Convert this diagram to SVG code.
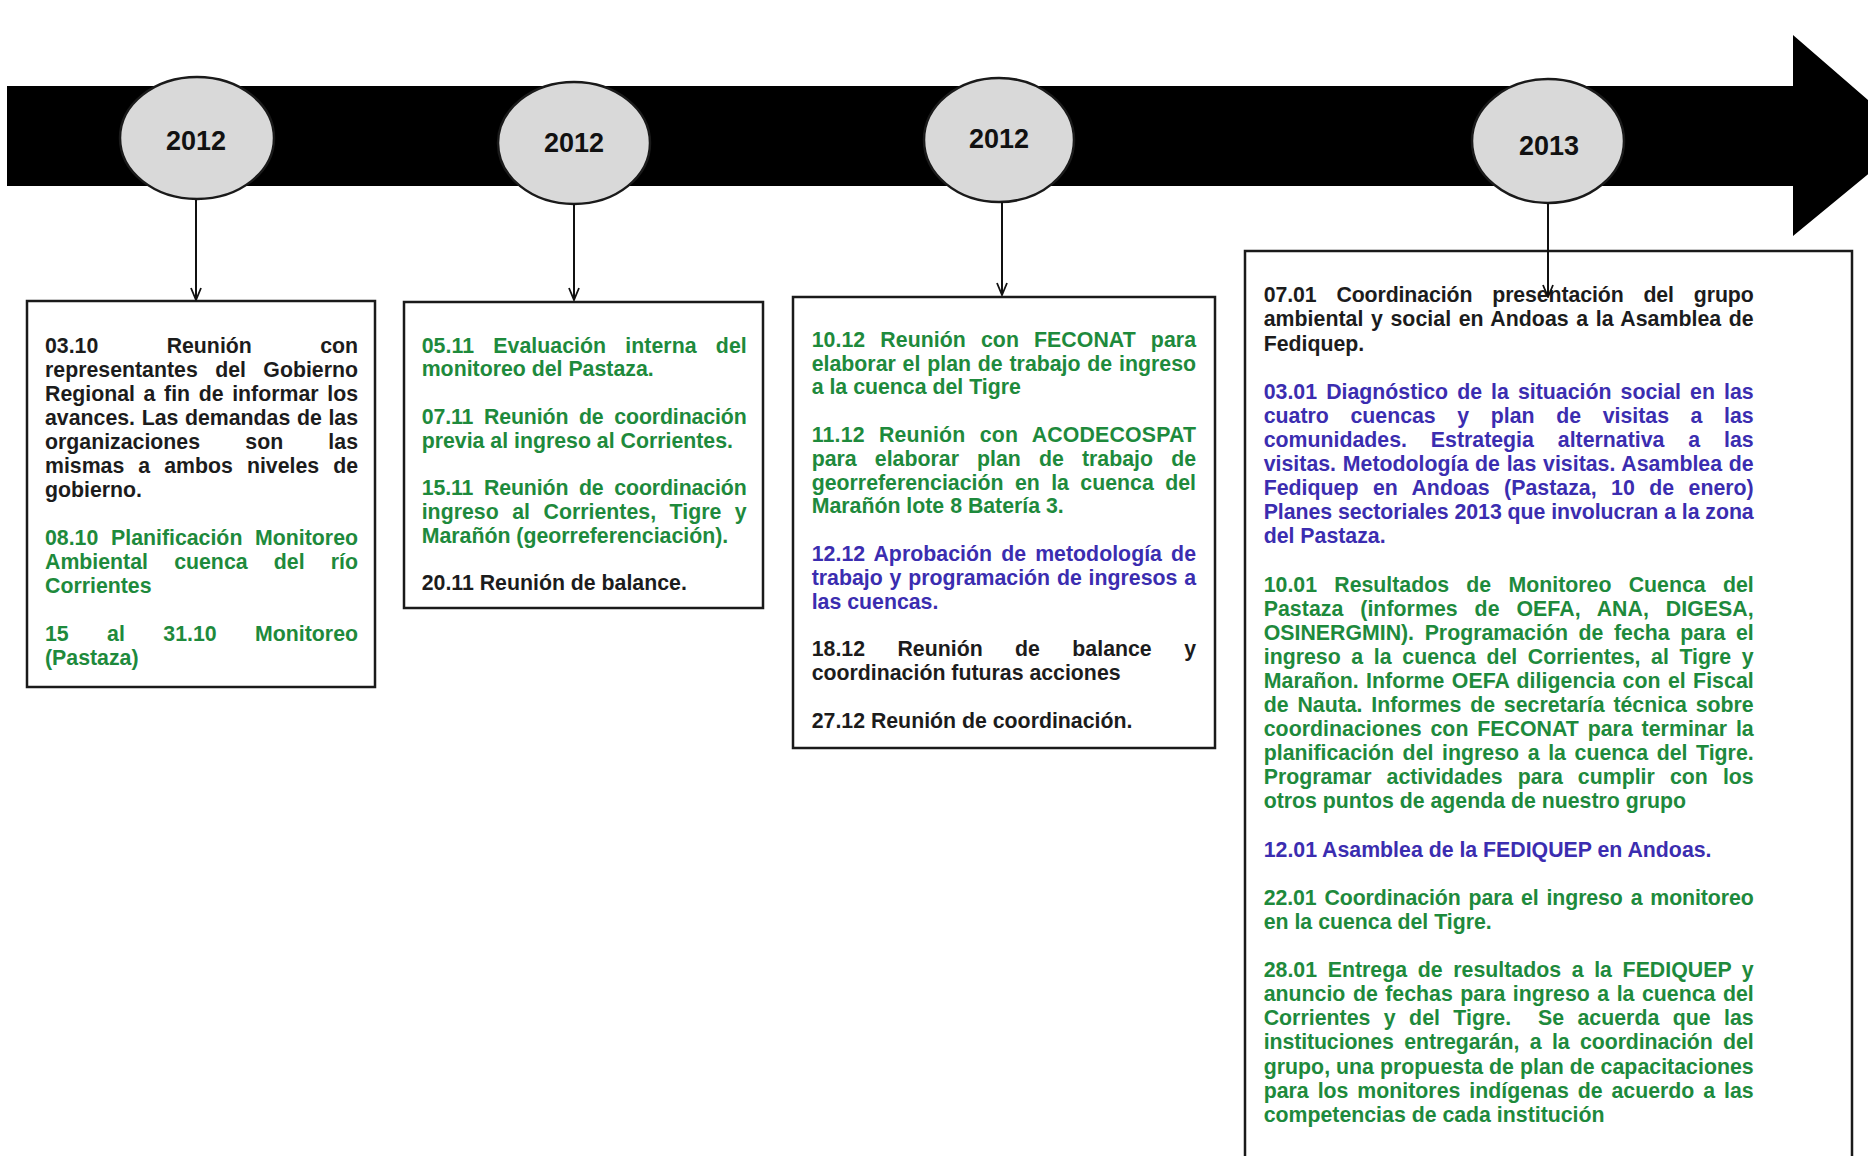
<svg xmlns="http://www.w3.org/2000/svg" width="1868" height="1156" viewBox="0 0 1868 1156">
<style>
.t{font-family:"Liberation Sans",Arial,sans-serif;font-size:21.3px;font-weight:bold}
.k{fill:#1c1c1c}.g{fill:#1e8a3c}.b{fill:#3b2db0}
.yr{font-family:"Liberation Sans",Arial,sans-serif;font-size:27px;font-weight:bold;fill:#111;text-anchor:middle}
.box{fill:#fff;stroke:#1a1a1a;stroke-width:2.5}
.ell{fill:#d9d9d9;stroke:#1a1a1a;stroke-width:2.5}
.con{stroke:#111;stroke-width:2;fill:none;marker-end:url(#ah)}
</style>
<defs>
<marker id="ah" markerUnits="userSpaceOnUse" viewBox="0 0 14 12" refX="13" refY="6" markerWidth="14" markerHeight="12" orient="auto">
<path d="M1,1 L13,6 L1,11" fill="none" stroke="#111" stroke-width="1.8"/>
</marker>
</defs>
<rect width="1868" height="1156" fill="#fff"/>
<g id="timeline">
<polygon points="7,86 1793,86 1793,35 1912,138 1793,236 1793,186 7,186" fill="#000"/>
</g>
<g id="year1"><ellipse class="ell" cx="197" cy="138" rx="77" ry="61"/><text class="yr" x="196" y="150">2012</text></g>
<g id="year2"><ellipse class="ell" cx="574" cy="143" rx="76" ry="61"/><text class="yr" x="574" y="152">2012</text></g>
<g id="year3"><ellipse class="ell" cx="999" cy="140" rx="75" ry="62"/><text class="yr" x="999" y="148">2012</text></g>
<g id="year4"><ellipse class="ell" cx="1548" cy="141" rx="76" ry="62"/><text class="yr" x="1549" y="155">2013</text></g>

<g id="box1">
<rect class="box" x="27" y="301" width="348" height="386"/>
<text class="t k" x="45" y="352.7" textLength="313" lengthAdjust="spacing" word-spacing="62.4">03.10 Reunión con</text>
<text class="t k" x="45" y="376.7" textLength="313" lengthAdjust="spacing" word-spacing="11.5">representantes del Gobierno</text>
<text class="t k" x="45" y="400.7" textLength="313" lengthAdjust="spacing" word-spacing="2.7">Regional a fin de informar los</text>
<text class="t k" x="45" y="424.7" textLength="313" lengthAdjust="spacing" word-spacing="0.7">avances. Las demandas de las</text>
<text class="t k" x="45" y="448.7" textLength="313" lengthAdjust="spacing" word-spacing="39.3">organizaciones son las</text>
<text class="t k" x="45" y="472.7" textLength="313" lengthAdjust="spacing" word-spacing="8.1">mismas a ambos niveles de</text>
<text class="t k" x="45" y="496.7">gobierno.</text>
<text class="t g" x="45" y="544.7" textLength="313" lengthAdjust="spacing" word-spacing="6.8">08.10 Planificación Monitoreo</text>
<text class="t g" x="45" y="568.7" textLength="313" lengthAdjust="spacing" word-spacing="20.3">Ambiental cuenca del río</text>
<text class="t g" x="45" y="592.7">Corrientes</text>
<text class="t g" x="45" y="640.7" textLength="313" lengthAdjust="spacing" word-spacing="32.5">15 al 31.10 Monitoreo</text>
<text class="t g" x="45" y="664.7">(Pastaza)</text>
</g>

<g id="box2">
<rect class="box" x="404" y="302" width="359" height="306"/>
<text class="t g" x="421.7" y="352.7" textLength="325" lengthAdjust="spacing" word-spacing="13.2">05.11 Evaluación interna del</text>
<text class="t g" x="421.7" y="376.45">monitoreo del Pastaza.</text>
<text class="t g" x="421.7" y="423.95" textLength="325" lengthAdjust="spacing" word-spacing="4.9">07.11 Reunión de coordinación</text>
<text class="t g" x="421.7" y="447.7">previa al ingreso al Corrientes.</text>
<text class="t g" x="421.7" y="495.2" textLength="325" lengthAdjust="spacing" word-spacing="4.9">15.11 Reunión de coordinación</text>
<text class="t g" x="421.7" y="518.95" textLength="325" lengthAdjust="spacing" word-spacing="7.6">ingreso al Corrientes, Tigre y</text>
<text class="t g" x="421.7" y="542.7">Marañón (georreferenciación).</text>
<text class="t k" x="421.7" y="590.2">20.11 Reunión de balance.</text>
</g>

<g id="box3">
<rect class="box" x="793" y="297" width="422" height="451"/>
<text class="t g" x="811.7" y="346.7" textLength="384.3" lengthAdjust="spacing" word-spacing="9.1">10.12 Reunión con FECONAT para</text>
<text class="t g" x="811.7" y="370.5" textLength="384.3" lengthAdjust="spacing" word-spacing="0.9">elaborar el plan de trabajo de ingreso</text>
<text class="t g" x="811.7" y="394.3">a la cuenca del Tigre</text>
<text class="t g" x="811.7" y="441.9" textLength="384.3" lengthAdjust="spacing" word-spacing="8.2">11.12 Reunión con ACODECOSPAT</text>
<text class="t g" x="811.7" y="465.7" textLength="384.3" lengthAdjust="spacing" word-spacing="12.2">para elaborar plan de trabajo de</text>
<text class="t g" x="811.7" y="489.5" textLength="384.3" lengthAdjust="spacing" word-spacing="5.5">georreferenciación en la cuenca del</text>
<text class="t g" x="811.7" y="513.3">Marañón lote 8 Batería 3.</text>
<text class="t b" x="811.7" y="560.9" textLength="384.3" lengthAdjust="spacing" word-spacing="3.2">12.12 Aprobación de metodología de</text>
<text class="t b" x="811.7" y="584.7" textLength="384.3" lengthAdjust="spacing" word-spacing="0.9">trabajo y programación de ingresos a</text>
<text class="t b" x="811.7" y="608.5">las cuencas.</text>
<text class="t k" x="811.7" y="656.1" textLength="384.3" lengthAdjust="spacing" word-spacing="26.5">18.12 Reunión de balance y</text>
<text class="t k" x="811.7" y="679.9">coordinación futuras acciones</text>
<text class="t k" x="811.7" y="727.5">27.12 Reunión de coordinación.</text>
</g>

<g id="box4">
<rect class="box" x="1245" y="251" width="607" height="925"/>
<text class="t k" x="1263.7" y="302.3" textLength="490" lengthAdjust="spacing" word-spacing="14.1">07.01 Coordinación presentación del grupo</text>
<text class="t k" x="1263.7" y="326.4" textLength="490" lengthAdjust="spacing" word-spacing="1.6">ambiental y social en Andoas a la Asamblea de</text>
<text class="t k" x="1263.7" y="350.5">Fediquep.</text>
<text class="t b" x="1263.7" y="398.7" textLength="490" lengthAdjust="spacing" word-spacing="3.2">03.01 Diagnóstico de la situación social en las</text>
<text class="t b" x="1263.7" y="422.8" textLength="490" lengthAdjust="spacing" word-spacing="15.7">cuatro cuencas y plan de visitas a las</text>
<text class="t b" x="1263.7" y="446.9" textLength="490" lengthAdjust="spacing" word-spacing="18">comunidades. Estrategia alternativa a las</text>
<text class="t b" x="1263.7" y="471" textLength="490" lengthAdjust="spacing" word-spacing="0.8">visitas. Metodología de las visitas. Asamblea de</text>
<text class="t b" x="1263.7" y="495.1" textLength="490" lengthAdjust="spacing" word-spacing="8.5">Fediquep en Andoas (Pastaza, 10 de enero)</text>
<text class="t b" x="1263.7" y="519.2" textLength="490" lengthAdjust="spacing">Planes sectoriales 2013 que involucran a la zona</text>
<text class="t b" x="1263.7" y="543.3">del Pastaza.</text>
<text class="t g" x="1263.7" y="591.5" textLength="490" lengthAdjust="spacing" word-spacing="11.4">10.01 Resultados de Monitoreo Cuenca del</text>
<text class="t g" x="1263.7" y="615.6" textLength="490" lengthAdjust="spacing" word-spacing="10.9">Pastaza (informes de OEFA, ANA, DIGESA,</text>
<text class="t g" x="1263.7" y="639.7" textLength="490" lengthAdjust="spacing" word-spacing="4.7">OSINERGMIN). Programación de fecha para el</text>
<text class="t g" x="1263.7" y="663.8" textLength="490" lengthAdjust="spacing" word-spacing="4.7">ingreso a la cuenca del Corrientes, al Tigre y</text>
<text class="t g" x="1263.7" y="687.9" textLength="490" lengthAdjust="spacing" word-spacing="1.4">Marañon. Informe OEFA diligencia con el Fiscal</text>
<text class="t g" x="1263.7" y="712" textLength="490" lengthAdjust="spacing" word-spacing="2.9">de Nauta. Informes de secretaría técnica sobre</text>
<text class="t g" x="1263.7" y="736.1" textLength="490" lengthAdjust="spacing" word-spacing="2.8">coordinaciones con FECONAT para terminar la</text>
<text class="t g" x="1263.7" y="760.2" textLength="490" lengthAdjust="spacing" word-spacing="2.7">planificación del ingreso a la cuenca del Tigre.</text>
<text class="t g" x="1263.7" y="784.3" textLength="490" lengthAdjust="spacing" word-spacing="9.2">Programar actividades para cumplir con los</text>
<text class="t g" x="1263.7" y="808.4">otros puntos de agenda de nuestro grupo</text>
<text class="t b" x="1263.7" y="856.6">12.01 Asamblea de la FEDIQUEP en Andoas.</text>
<text class="t g" x="1263.7" y="904.8" textLength="490" lengthAdjust="spacing" word-spacing="2.1">22.01 Coordinación para el ingreso a monitoreo</text>
<text class="t g" x="1263.7" y="928.9">en la cuenca del Tigre.</text>
<text class="t g" x="1263.7" y="977.1" textLength="490" lengthAdjust="spacing" word-spacing="4.7">28.01 Entrega de resultados a la FEDIQUEP y</text>
<text class="t g" x="1263.7" y="1001.2" textLength="490" lengthAdjust="spacing" word-spacing="1.6">anuncio de fechas para ingreso a la cuenca del</text>
<text class="t g" x="1263.7" y="1025.3" textLength="490" lengthAdjust="spacing" word-spacing="7.5">Corrientes y del Tigre.&#160; Se acuerda que las</text>
<text class="t g" x="1263.7" y="1049.4" textLength="490" lengthAdjust="spacing" word-spacing="4.7">instituciones entregarán, a la coordinación del</text>
<text class="t g" x="1263.7" y="1073.5" textLength="490" lengthAdjust="spacing">grupo, una propuesta de plan de capacitaciones</text>
<text class="t g" x="1263.7" y="1097.6" textLength="490" lengthAdjust="spacing" word-spacing="3">para los monitores indígenas de acuerdo a las</text>
<text class="t g" x="1263.7" y="1121.7">competencias de cada institución</text>
</g>

<g id="connectors">
<line class="con" x1="196" y1="200" x2="196" y2="300"/>
<line class="con" x1="574" y1="204" x2="574" y2="300"/>
<line class="con" x1="1002" y1="202" x2="1002" y2="295"/>
<line class="con" x1="1548" y1="203" x2="1548" y2="297"/>
</g>
</svg>
